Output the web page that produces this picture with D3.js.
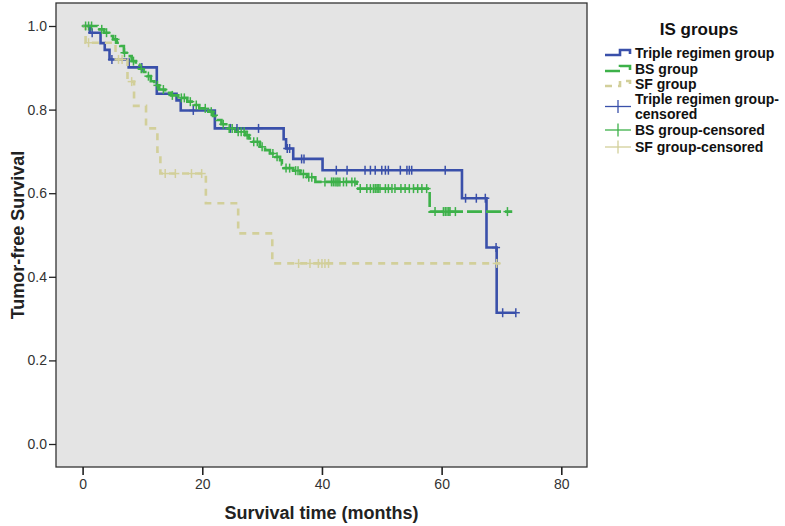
<!DOCTYPE html>
<html><head><meta charset="utf-8">
<script src="https://cdn.jsdelivr.net/npm/d3@7"></script>
<style>body{margin:0;background:#fff}svg{display:block}text{font-family:"Liberation Sans",Arial,sans-serif}</style>
</head><body>
<script>
// ---- data ----
const groups = ["Triple regimen group", "BS group", "SF group"];
const tripleTimes = [1.2, 3.0, 3.7, 4.5, 7.7, 12.4, 15.7, 16.4, 22.1, 33.6, 34.0, 35.2, 40.1, 63.4, 67.5, 69.2];
const tripleSurv  = [0.984, 0.959, 0.943, 0.920, 0.901, 0.838, 0.822, 0.798, 0.755, 0.729, 0.707, 0.682, 0.655, 0.588, 0.470, 0.314];
const tripleEnd = 72.4;
const tripleCens = [1.6, 4.9, 9.9, 18.5, 24.7, 25.8, 29.4, 34.2, 34.6, 36.6, 37.0, 42.4, 44.2, 47.2, 48.1, 48.9, 50.0, 50.6, 51.1, 53.1, 54.2, 54.6, 55.0, 60.6, 64.0, 65.8, 67.3, 69.1, 70.2, 72.4];

const bsTimes = [2.5, 3.6, 4.4, 5.1, 5.7, 6.3, 6.9, 7.6, 8.2, 8.9, 9.5, 10.2, 10.8, 11.4, 12.0, 12.8, 13.8, 14.8, 16.0, 17.5, 18.6, 19.5, 21.0, 21.8, 22.4, 23.2, 24.0, 25.5, 27.2, 27.8, 28.3, 29.6, 30.5, 31.3, 32.2, 33.0, 33.3, 33.6, 35.2, 36.4, 37.5, 38.9, 45.8, 58.0];
const bsSurv  = [0.992, 0.984, 0.976, 0.968, 0.960, 0.952, 0.936, 0.928, 0.916, 0.908, 0.898, 0.890, 0.880, 0.868, 0.858, 0.848, 0.840, 0.834, 0.828, 0.819, 0.811, 0.803, 0.795, 0.785, 0.775, 0.765, 0.755, 0.747, 0.739, 0.731, 0.723, 0.711, 0.703, 0.695, 0.687, 0.679, 0.669, 0.660, 0.654, 0.646, 0.638, 0.627, 0.611, 0.556];
const bsEnd = 71.8;
const bsCens = [0.5, 1.0, 1.5, 3.2, 4.0, 5.5, 7.0, 8.5, 9.8, 11.0, 12.5, 13.5, 15.0, 16.5, 17.0, 18.0, 19.0, 20.5, 21.5, 23.5, 24.5, 25.0, 26.0, 26.5, 27.0, 27.5, 28.6, 29.2, 30.0, 31.8, 32.5, 34.0, 34.6, 35.6, 36.0, 36.9, 37.8, 38.3, 40.5, 41.6, 41.9, 42.2, 42.5, 42.7, 43.0, 43.6, 44.1, 45.0, 45.5, 46.4, 47.5, 48.1, 48.6, 48.9, 49.2, 49.4, 49.7, 50.6, 51.1, 51.7, 52.2, 53.2, 53.9, 54.6, 55.3, 56.0, 56.7, 57.5, 58.9, 60.3, 60.6, 60.9, 61.2, 61.4, 62.3, 71.0];

const sfTimes = [0.5, 5.5, 7.5, 8.6, 10.6, 12.5, 13.0, 20.6, 26.0, 31.7];
const sfSurv  = [0.960, 0.920, 0.867, 0.809, 0.755, 0.699, 0.647, 0.576, 0.504, 0.432];
const sfEnd = 69.8;
const sfCens = [1.0, 6.0, 6.6, 8.2, 13.8, 15.5, 18.2, 19.9, 36.1, 38.0, 39.4, 40.0, 40.5, 41.1, 69.2];

const xTicks = [0, 20, 40, 60, 80];
const yTicks = [0, 0.2, 0.4, 0.6, 0.8, 1.0];
const legendTitle = "IS groups";
const legendLabels = ["Triple regimen group", "BS group", "SF group", ["Triple regimen group-", "censored"], "BS group-censored", "SF group-censored"];

// ---- drawing ----
const colors = ["#3a50aa", "#3db149", "#d2cf9a"];
const dashes = [null, "15,4", "7,6"];
const W = 785, H = 526;
const svg = d3.select("body").append("svg").attr("width", W).attr("height", H);

const frame = {l: 56, r: 587, t: 3, b: 467};
const x = d3.scaleLinear().domain([0, 80]).range([82.6, 561.3]);
const y = d3.scaleLinear().domain([0, 1]).range([444, 26]);

svg.append("rect").attr("x", frame.l).attr("y", frame.t).attr("width", frame.r - frame.l).attr("height", frame.b - frame.t)
  .attr("fill", "#e4e4e4").attr("stroke", "#333").attr("stroke-width", 1.3);

const yAx = svg.append("g").attr("transform", `translate(${frame.l},0)`)
  .call(d3.axisLeft(y).tickValues(yTicks).tickFormat(d3.format(".1f")).tickSize(7).tickSizeOuter(0).tickPadding(2));
yAx.select(".domain").remove();
yAx.selectAll("line").attr("stroke", "#222").attr("stroke-width", 1.3);
yAx.selectAll("text").attr("font-size", 14).attr("fill", "#333").attr("font-family", "Liberation Sans, Arial, sans-serif");

const xAx = svg.append("g").attr("transform", `translate(0,${frame.b})`)
  .call(d3.axisBottom(x).tickValues(xTicks).tickFormat(d3.format("d")).tickSize(8).tickSizeOuter(0).tickPadding(4));
xAx.select(".domain").remove();
xAx.selectAll("line").attr("stroke", "#222").attr("stroke-width", 1.6);
xAx.selectAll("text").attr("font-size", 14).attr("fill", "#333").attr("font-family", "Liberation Sans, Arial, sans-serif");

svg.append("text").attr("x", (frame.l + frame.r) / 2).attr("y", 519).attr("text-anchor", "middle")
  .attr("font-size", 18).attr("font-weight", "bold").attr("fill", "#222").text("Survival time (months)");
svg.append("text").attr("transform", `translate(24,${(y(0) + y(1)) / 2}) rotate(-90)`).attr("text-anchor", "middle")
  .attr("font-size", 18).attr("font-weight", "bold").attr("fill", "#222").text("Tumor-free Survival");

const series = [
  {times: tripleTimes, surv: tripleSurv, end: tripleEnd, cens: tripleCens},
  {times: bsTimes, surv: bsSurv, end: bsEnd, cens: bsCens},
  {times: sfTimes, surv: sfSurv, end: sfEnd, cens: sfCens}
];
const line = d3.line().x(d => x(d[0])).y(d => y(d[1])).curve(d3.curveStepAfter);
function survAt(s, t) {
  const i = d3.bisectRight(s.times, t);
  return i === 0 ? 1 : s.surv[i - 1];
}
[0, 1, 2].forEach(gi => {
  const s = series[gi];
  const pts = [[0, 1]].concat(s.times.map((t, i) => [t, s.surv[i]])).concat([[s.end, s.surv[s.surv.length - 1]]]);
  svg.append("path").attr("d", line(pts)).attr("fill", "none").attr("stroke", colors[gi])
    .attr("stroke-width", 2.6).attr("stroke-dasharray", dashes[gi]);
});
[0, 1, 2].forEach(gi => {
  const s = series[gi];
  const g = svg.append("g").attr("stroke", colors[gi]).attr("stroke-width", 1.5);
  s.cens.forEach(c => {
    const cx = x(c), cy = y(survAt(s, c));
    g.append("line").attr("x1", cx).attr("x2", cx).attr("y1", cy - 4.5).attr("y2", cy + 4.5);
    g.append("line").attr("x1", cx - 4).attr("x2", cx + 4).attr("y1", cy).attr("y2", cy);
  });
});

// legend
const lg = svg.append("g");
lg.append("text").attr("x", 699).attr("y", 35).attr("text-anchor", "middle").attr("font-size", 17)
  .attr("font-weight", "bold").attr("fill", "#111").text(legendTitle);
const rowY = [53, 69, 84, 98.5, 130, 147];
legendLabels.forEach((lab, i) => {
  const yy = rowY[i];
  const gi = i % 3;
  if (i < 3) {
    lg.append("path").attr("d", `M605,${yy + 2}H620V${yy - 3}H630V${yy + 1}`).attr("fill", "none")
      .attr("stroke", colors[gi]).attr("stroke-width", 2.6).attr("stroke-dasharray", dashes[gi]);
  } else {
    const cy = i === 3 ? yy + 8 : yy;
    lg.append("line").attr("x1", 605).attr("x2", 631).attr("y1", cy).attr("y2", cy).attr("stroke", colors[gi]).attr("stroke-width", 1.3);
    lg.append("line").attr("x1", 618).attr("x2", 618).attr("y1", cy - 6.5).attr("y2", cy + 6.5).attr("stroke", colors[gi]).attr("stroke-width", 1.3);
  }
  if (Array.isArray(lab)) {
    lab.forEach((part, k) => {
      lg.append("text").attr("x", 635).attr("y", yy + 5 + k * 15.8).attr("font-size", 14)
        .attr("font-weight", "bold").attr("fill", "#111").text(part);
    });
  } else {
    lg.append("text").attr("x", 635).attr("y", yy + 5).attr("font-size", 14)
      .attr("font-weight", "bold").attr("fill", "#111").text(lab);
  }
});
</script>
</body></html>
